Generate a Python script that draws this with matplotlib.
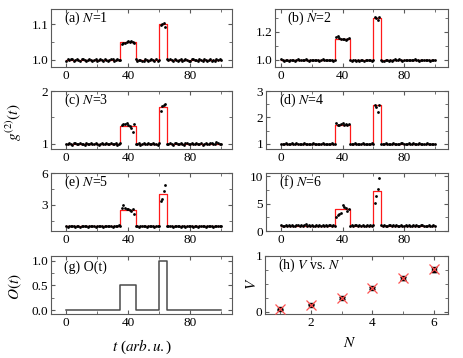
import numpy as np
import matplotlib

matplotlib.use("Agg")
import matplotlib.pyplot as plt
from matplotlib.ticker import MultipleLocator, FixedLocator, FormatStrFormatter

plt.rcParams["font.family"] = ["Liberation Serif", "DejaVu Serif"]
plt.rcParams["mathtext.fontset"] = "stix"
plt.rcParams["font.size"] = 9

# ---- data ----
t = np.arange(0, 101)
edges = [0, 35, 45, 60, 65, 100]

# fitted step levels per panel (baseline, pulse1, baseline, pulse2, baseline)
levels = {
    1: [1.0, 1.05, 1.0, 1.1, 1.0],
    2: [1.0, 1.15, 1.0, 1.3, 1.0],
    3: [1.0, 1.34, 1.0, 1.69, 1.0],
    4: [1.0, 1.73, 1.0, 2.46, 1.0],
    5: [1.0, 2.52, 1.0, 4.0, 1.0],
    6: [1.0, 4.1, 1.0, 7.25, 1.0],
}
o_levels = [0.0, 0.5, 0.0, 1.0, 0.0]

g2_n1 = [0.997, 1.001, 0.999, 1.003, 1.002, 0.998, 1.000, 1.002, 0.999, 0.997, 1.001, 1.003, 1.000, 0.998, 0.999, 1.002, 1.000, 0.997,
         0.999, 1.001, 0.998, 1.000, 1.002, 0.999, 0.998, 1.001, 1.000, 0.997, 0.999, 1.002, 1.001, 0.998, 1.000, 1.003, 0.999, 1.000,
         1.043, 1.048, 1.047, 1.050, 1.052, 1.049, 1.054, 1.051, 1.046,
         1.001, 0.998, 0.999, 1.000, 0.997, 0.998, 1.001, 0.999, 0.998, 1.000, 1.003, 0.999, 0.998, 1.002, 0.997, 1.000,
         1.098, 1.100, 1.103, 1.091,
         1.001, 0.999, 1.003, 1.000, 0.998, 1.002, 0.999, 0.997, 1.000, 1.001, 0.998, 0.999, 1.002, 1.000, 0.997, 0.998, 1.001, 1.003,
         0.999, 1.000, 0.998, 1.002, 0.999, 0.997, 1.001, 1.000, 0.998, 0.999, 1.002, 0.997, 1.000, 0.998, 1.001, 0.999, 1.002, 1.000]
g2_n2 = [1.004, 0.997, 0.995, 1.001, 0.998, 0.996, 1.003, 0.999, 1.002, 0.996, 0.998, 1.004, 1.000, 0.997, 1.002, 0.999, 1.005, 0.998,
         0.996, 1.001, 1.003, 0.999, 0.997, 1.002, 1.000, 0.996, 0.999, 1.004, 1.001, 0.997, 0.998, 1.003, 0.999, 1.001, 0.996, 1.002,
         1.162, 1.170, 1.158, 1.150, 1.147, 1.152, 1.145, 1.149, 1.155,
         0.998, 0.994, 0.997, 1.001, 0.995, 0.999, 0.996, 1.002, 0.998, 0.995, 1.000, 0.997, 1.003, 0.999, 0.996, 1.001,
         1.310, 1.298, 1.285, 1.305,
         1.002, 0.996, 0.994, 0.999, 1.003, 0.993, 0.998, 0.990, 1.001, 1.004, 0.997, 1.000, 1.006, 0.998, 0.995, 1.002, 0.999, 1.003,
         1.000, 0.997, 1.001, 0.999, 1.004, 0.998, 1.002, 0.996, 0.999, 1.003, 1.000, 0.997, 1.001, 0.998, 0.995, 1.002, 0.999, 0.997]
g2_n3 = [1.00, 0.99, 1.01, 1.00, 0.98, 1.01, 1.02, 0.99, 1.00, 1.01, 0.99, 1.00, 0.98, 1.01, 1.00, 0.99, 1.02, 1.00,
         0.99, 1.01, 1.00, 0.98, 1.00, 1.01, 0.99, 1.00, 1.02, 0.99, 1.00, 1.01, 0.99, 1.00, 1.01, 0.98, 1.00, 1.01,
         1.36, 1.38, 1.37, 1.39, 1.35, 1.33, 1.30, 1.22, 1.37,
         1.00, 0.99, 1.01, 0.98, 1.00, 1.01, 0.99, 1.00, 1.02, 0.99, 1.00, 1.01, 0.99, 1.00, 0.98, 1.01,
         1.62, 1.71, 1.73, 1.76,
         1.00, 0.99, 1.01, 1.00, 0.98, 1.01, 1.02, 1.00, 0.99, 1.01, 1.00, 0.98, 1.01, 1.02, 0.99, 1.00, 1.01, 0.99,
         1.00, 1.02, 0.99, 1.00, 1.01, 0.98, 1.00, 1.01, 0.99, 1.00, 1.02, 1.01, 0.99, 1.00, 1.03, 1.01, 0.99, 1.00]
g2_n4 = [1.00, 1.01, 0.99, 1.02, 1.00, 0.98, 1.01, 1.03, 0.99, 1.00, 1.02, 0.98, 1.01, 1.00, 0.99, 1.02, 1.01, 0.98,
         1.00, 1.01, 0.99, 1.03, 1.00, 0.98, 1.01, 1.00, 0.99, 1.02, 1.00, 0.98, 1.01, 0.99, 1.00, 1.02, 0.99, 1.01,
         1.78, 1.70, 1.72, 1.75, 1.80, 1.73, 1.76, 1.72, 1.74,
         1.01, 0.99, 1.00, 1.02, 0.98, 1.01, 1.00, 0.99, 1.03, 1.00, 0.98, 1.01, 1.00, 0.99, 1.02, 1.00,
         2.47, 2.38, 2.22, 2.49,
         0.99, 1.01, 1.00, 1.03, 0.98, 1.00, 1.01, 0.99, 1.02, 1.00, 1.01, 0.98, 1.00, 1.02, 1.04, 0.99, 1.01, 1.00,
         1.03, 0.99, 1.00, 1.05, 1.01, 0.98, 1.00, 1.02, 0.99, 1.01, 1.00, 0.98, 1.02, 1.00, 0.99, 1.01, 1.00, 0.99]
g2_n5 = [1.02, 0.98, 1.00, 1.04, 0.99, 1.01, 0.97, 1.03, 1.00, 0.98, 1.02, 1.01, 0.99, 1.03, 0.98, 1.00, 1.02, 0.99,
         1.01, 0.97, 1.03, 1.00, 0.99, 1.02, 0.98, 1.01, 1.00, 1.04, 0.99, 1.02, 0.98, 1.00, 1.03, 0.99, 1.10, 1.01,
         2.72, 3.00, 2.70, 2.60, 2.65, 2.55, 2.45, 2.60, 2.20,
         1.00, 1.02, 0.98, 1.01, 1.03, 0.99, 1.00, 0.97, 1.02, 1.00, 0.99, 1.03, 0.98, 1.01, 1.00, 1.02,
         3.38, 3.55, 4.35, 4.90,
         1.01, 0.99, 1.03, 1.00, 0.98, 1.02, 1.06, 0.99, 1.01, 0.97, 1.03, 1.00, 0.98, 1.02, 1.00, 0.99, 1.04, 0.98,
         1.01, 1.00, 0.97, 1.02, 0.99, 1.03, 1.00, 0.98, 1.01, 1.02, 0.99, 1.00, 0.97, 1.03, 1.00, 0.99, 1.01, 1.00]
g2_n6 = [1.05, 0.95, 1.00, 1.08, 0.97, 1.02, 0.94, 1.06, 1.00, 0.96, 1.04, 1.01, 0.98, 1.07, 0.95, 1.02, 1.25, 0.97,
         1.03, 0.95, 1.06, 1.00, 0.97, 1.04, 0.96, 1.02, 1.00, 1.07, 0.98, 1.03, 0.95, 1.01, 1.05, 0.97, 1.02, 1.00,
         2.65, 2.85, 3.05, 3.30, 4.80, 4.30, 4.20, 3.70, 4.00,
         1.00, 1.04, 0.96, 1.02, 1.06, 0.97, 1.01, 0.94, 1.05, 1.00, 0.97, 1.06, 0.95, 1.02, 1.00, 1.04,
         5.05, 6.35, 7.60, 9.60,
         1.02, 0.97, 1.05, 1.00, 0.95, 1.04, 1.08, 0.97, 1.02, 0.94, 1.06, 1.00, 0.96, 1.04, 1.00, 0.97, 1.07, 0.95,
         1.02, 1.00, 0.94, 1.05, 0.98, 1.06, 1.00, 0.96, 1.03, 1.04, 0.97, 1.00, 0.95, 1.06, 1.00, 0.97, 1.02, 1.00]
g2_data = {1: g2_n1, 2: g2_n2, 3: g2_n3, 4: g2_n4, 5: g2_n5, 6: g2_n6}

n_vals = [1, 2, 3, 4, 5, 6]
v_meas = [0.043, 0.13, 0.25, 0.42, 0.60, 0.755]
v_err = [0.012, 0.015, 0.015, 0.02, 0.025, 0.04]
v_theory = [0.043, 0.13, 0.255, 0.42, 0.61, 0.77]

# ---- layout (figure fractions) ----
W, H = 464, 358
row_top = [9, 91, 173, 256]
ax_h = 58


def rect(x0, x1, row):
    top = row_top[row]
    return [x0 / W, 1 - (top + ax_h) / H, (x1 - x0) / W, ax_h / H]


panel_cfg = {
    1: dict(rect=rect(51, 232, 0), ylim=(0.98, 1.142), yt=[1.0, 1.1], ym=0.05, fmt="%.1f", lab="a", xl=(-9.7, 107)),
    2: dict(rect=rect(275, 448, 0), ylim=(0.95, 1.364), yt=[1.0, 1.2], ym=0.1, fmt="%.1f", lab="b", xl=(-3.9, 108.6)),
    3: dict(rect=rect(51, 232, 1), ylim=(0.905, 2.0), yt=[1, 2], ym=0.5, fmt="%d", lab="c", xl=(-9.7, 107)),
    4: dict(rect=rect(266, 448, 1), ylim=(0.81, 3.0), yt=[1, 2, 3], ym=0.5, fmt="%d", lab="d", xl=(-9.8, 108.6)),
    5: dict(rect=rect(51, 232, 2), ylim=(0.56, 6.0), yt=[3, 6], ym=1.5, fmt="%d", lab="e", xl=(-9.7, 107)),
    6: dict(rect=rect(266, 448, 2), ylim=(0.0, 10.6), yt=[0, 5, 10], ym=2.5, fmt="%d", lab="f", xl=(-9.8, 108.6)),
}

spine_col = "#5a5a5a"


def style(ax):
    for s in ax.spines.values():
        s.set_color(spine_col)
        s.set_linewidth(0.8)
    ax.tick_params(which="both", direction="in", top=True, right=True, color=spine_col,
                   labelsize=9.5, pad=2)
    ax.tick_params(which="major", length=3)
    ax.tick_params(which="minor", length=2)


def time_axis(ax, xl):
    ax.set_xlim(*xl)
    ax.xaxis.set_major_locator(FixedLocator([0, 40, 80]))
    ax.xaxis.set_minor_locator(FixedLocator([20, 60, 100]))


fig = plt.figure(figsize=(W / 100, H / 100), dpi=100)

for n, cfg in panel_cfg.items():
    ax = fig.add_axes(cfg["rect"])
    style(ax)
    ax.plot(edges, levels[n] + [levels[n][-1]], drawstyle="steps-post", color="#ff1a1a", lw=0.9, zorder=2)
    ax.plot(t, g2_data[n], "o", color="black", ms=2.0, mew=0, zorder=3)
    time_axis(ax, cfg["xl"])
    ax.set_ylim(*cfg["ylim"])
    ax.yaxis.set_major_locator(FixedLocator(cfg["yt"]))
    ax.yaxis.set_minor_locator(MultipleLocator(cfg["ym"]))
    ax.yaxis.set_major_formatter(FormatStrFormatter(cfg["fmt"]))
    ax.text(0.07, 0.84, "(%s) $N$=%d" % (cfg["lab"], n), transform=ax.transAxes,
            fontsize=10, va="center", ha="left")

# (g) O(t)
ax = fig.add_axes(rect(51, 232, 3))
style(ax)
ax.plot(edges, o_levels + [o_levels[-1]], drawstyle="steps-post", color="#4a4a4a", lw=1.1)
time_axis(ax, (-9.7, 107))
ax.set_ylim(-0.08, 1.1)
ax.yaxis.set_major_locator(FixedLocator([0.0, 0.5, 1.0]))
ax.yaxis.set_minor_locator(MultipleLocator(0.25))
ax.yaxis.set_major_formatter(FormatStrFormatter("%.1f"))
ax.text(0.07, 0.80, "(g) O(t)", transform=ax.transAxes, fontsize=10, va="center", ha="left")

# (h) V vs N
ax = fig.add_axes(rect(265, 448, 3))
style(ax)
ax.errorbar(n_vals, v_meas, yerr=v_err, fmt="s", color="black", ms=3.5, capsize=2.5,
            elinewidth=1.0, capthick=1.0, zorder=3)
ax.plot(n_vals, v_theory, "x", color="#ff5050", ms=7, mew=0.9, zorder=4)
ax.set_xlim(0.52, 6.45)
ax.set_ylim(-0.04, 1.0)
ax.xaxis.set_major_locator(FixedLocator([2, 4, 6]))
ax.xaxis.set_minor_locator(FixedLocator([1, 3, 5]))
ax.yaxis.set_major_locator(FixedLocator([0, 1]))
ax.yaxis.set_minor_locator(MultipleLocator(0.25))
ax.text(0.07, 0.84, "(h) $V$ vs. $N$", transform=ax.transAxes, fontsize=10, va="center", ha="left")

# axis labels
fig.text(14 / W, 1 - 122 / H, "$g^{(2)}(t)$", rotation=90, fontsize=11, ha="center", va="center")
fig.text(15 / W, 1 - 287 / H, "$O(t)$", rotation=90, fontsize=11, ha="center", va="center")
fig.text(252 / W, 1 - 284 / H, "$V$", rotation=90, fontsize=11, ha="center", va="center")
fig.text(142 / W, 1 - 347 / H, "$t$ ($arb.u.$)", fontsize=11, ha="center", va="center")
fig.text(350 / W, 1 - 343 / H, "$N$", fontsize=11, ha="center", va="center")

fig.savefig("out.png", dpi=100)
